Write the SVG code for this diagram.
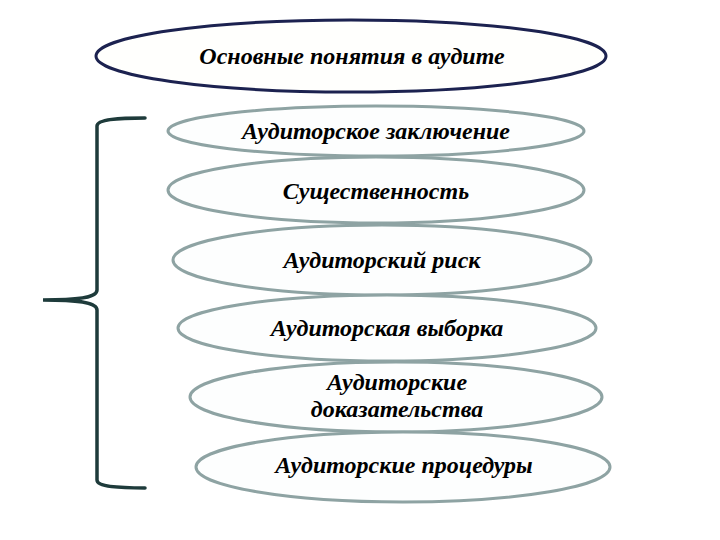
<svg xmlns="http://www.w3.org/2000/svg" width="720" height="540" viewBox="0 0 720 540">
<style>
.t{font-family:"Liberation Serif","Times New Roman",serif;font-style:italic;font-weight:bold;font-size:24px;fill:#000;text-anchor:middle}
.e{fill:#fdfefe;stroke:#8ea3a3;stroke-width:3}
.br{fill:none;stroke:#1e3b3b;stroke-width:3.5;stroke-linecap:round}
</style>
<rect width="720" height="540" fill="#fff"/>
<g id="title">
<ellipse cx="351" cy="56" rx="255" ry="36" fill="#fffffd" stroke="#1c2250" stroke-width="3"/>
<text class="t" x="352" y="64">Основные понятия в аудите</text>
</g>
<g id="n1">
<ellipse class="e" cx="376" cy="131" rx="208" ry="25"/>
<text class="t" x="376" y="139">Аудиторское заключение</text>
</g>
<g id="n2">
<ellipse class="e" cx="376" cy="190" rx="208" ry="33"/>
<text class="t" x="376" y="199">Существенность</text>
</g>
<g id="n3">
<ellipse class="e" cx="382" cy="260" rx="209" ry="35"/>
<text class="t" x="382" y="268">Аудиторский риск</text>
</g>
<g id="n4">
<ellipse class="e" cx="387" cy="328" rx="209" ry="33"/>
<text class="t" x="387" y="336">Аудиторская выборка</text>
</g>
<g id="n5">
<ellipse class="e" cx="396" cy="397" rx="206" ry="35"/>
<text class="t" x="397" y="390">Аудиторские</text>
<text class="t" x="397" y="417">доказательства</text>
</g>
<g id="n6">
<ellipse class="e" cx="403" cy="467" rx="207" ry="35"/>
<text class="t" x="404" y="473">Аудиторские процедуры</text>
</g>
<g id="connectors">
<path class="br" d="M145,118 C120,118 97,119 97,126 L97,290 C97,297 82,300 43,300 C82,300 97,303 97,310 L97,480 C97,487 120,488 145,488"/>
</g>
</svg>
